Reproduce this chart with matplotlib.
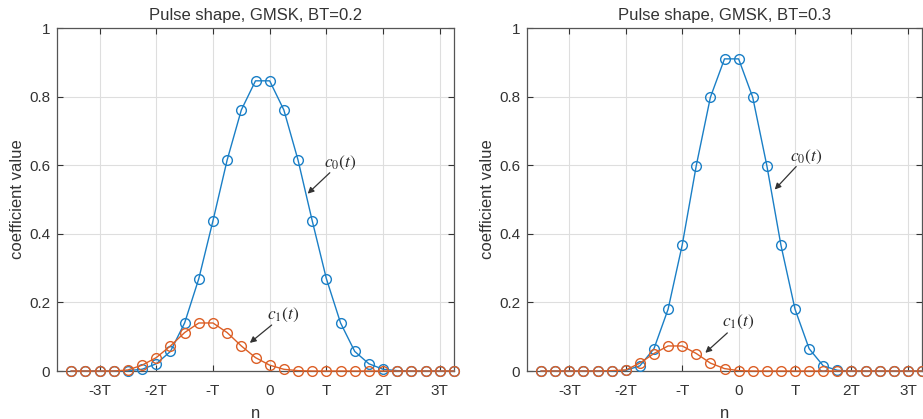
import matplotlib
matplotlib.use("Agg")
import matplotlib.pyplot as plt
import numpy as np

# sample positions in units of T (step T/4)
n_T = [-3.5, -3.25, -3.0, -2.75, -2.5, -2.25, -2.0, -1.75, -1.5, -1.25, -1.0,
       -0.75, -0.5, -0.25, 0.0, 0.25, 0.5, 0.75, 1.0, 1.25, 1.5, 1.75, 2.0,
       2.25, 2.5, 2.75, 3.0, 3.25]

# BT = 0.2
c0_bt02 = [0, 0, 0, 0, 0.001, 0.005, 0.021, 0.057, 0.140, 0.269, 0.438,
           0.615, 0.761, 0.846, 0.846, 0.761, 0.615, 0.438, 0.269, 0.140,
           0.057, 0.021, 0.005, 0.001, 0, 0, 0, 0]
c1_bt02 = [0, 0, 0, 0, 0.003, 0.017, 0.039, 0.073, 0.112, 0.140, 0.140,
           0.112, 0.073, 0.039, 0.017, 0.005, 0.001, 0, 0, 0, 0, 0, 0, 0,
           0, 0, 0, 0]

# BT = 0.3
c0_bt03 = [0, 0, 0, 0, 0, 0, 0.002, 0.015, 0.065, 0.180, 0.367, 0.599,
           0.798, 0.910, 0.910, 0.798, 0.599, 0.367, 0.180, 0.065, 0.015,
           0.002, 0, 0, 0, 0, 0, 0]
c1_bt03 = [0, 0, 0, 0, 0, 0.001, 0.003, 0.023, 0.051, 0.073, 0.073, 0.051,
           0.023, 0.007, 0.001, 0, 0, 0, 0, 0, 0, 0, 0, 0, 0, 0, 0, 0]

xtick_pos = [-3, -2, -1, 0, 1, 2, 3]
xtick_labels = ['-3T', '-2T', '-T', '0', 'T', '2T', '3T']
ytick_pos = [0, 0.2, 0.4, 0.6, 0.8, 1.0]
ytick_labels = ['0', '0.2', '0.4', '0.6', '0.8', '1']

titles = ['Pulse shape, GMSK, BT=0.2', 'Pulse shape, GMSK, BT=0.3']

plt.rcParams['font.family'] = ['Liberation Sans', 'DejaVu Sans']
plt.rcParams['mathtext.fontset'] = 'stix'

BLUE = '#1a7fc6'
ORANGE = '#dc5f26'
AXC = '#333333'

fig = plt.figure(figsize=(9.23, 4.19), dpi=100)
ax1 = fig.add_axes([57/923, 48/419, 397/923, 343/419])
ax2 = fig.add_axes([527/923, 48/419, 395/923, 343/419])

annots = [
    # (text, text_xy, arrow_start, arrow_tip)
    [(r'$c_0(t)$', (1.24, 0.608), (1.06, 0.578), (0.67, 0.517)),
     (r'$c_1(t)$', (0.24, 0.164), (0.035, 0.134), (-0.35, 0.082))],
    [(r'$c_0(t)$', (1.19, 0.625), (1.02, 0.596), (0.64, 0.529)),
     (r'$c_1(t)$', (0.0, 0.143), (-0.20, 0.111), (-0.59, 0.053))],
]

for ax, c0, c1, title, ann in [(ax1, c0_bt02, c1_bt02, titles[0], annots[0]),
                                (ax2, c0_bt03, c1_bt03, titles[1], annots[1])]:
    ax.plot(n_T, c0, '-o', color=BLUE, lw=1.0, ms=7, mfc='none', mew=1.0,
            clip_on=False, zorder=3)
    ax.plot(n_T, c1, '-o', color=ORANGE, lw=1.0, ms=7, mfc='none', mew=1.0,
            clip_on=False, zorder=4)
    ax.set_xlim(-3.75, 3.25)
    ax.set_ylim(0, 1)
    ax.set_xticks(xtick_pos)
    ax.set_xticklabels(xtick_labels)
    ax.set_yticks(ytick_pos)
    ax.set_yticklabels(ytick_labels)
    ax.grid(True, color='#dedede', lw=0.8)
    ax.set_axisbelow(True)
    ax.tick_params(direction='in', top=True, right=True, length=4,
                   color=AXC, labelcolor=AXC, labelsize=11, width=0.8)
    ax.tick_params(axis='x', pad=9)
    ax.tick_params(axis='y', pad=5)
    for s in ax.spines.values():
        s.set_color('#555555')
        s.set_linewidth(0.9)
    ax.set_title(title, fontsize=12, color=AXC, pad=5.5)
    ax.set_xlabel('n', fontsize=12, color=AXC, labelpad=6)
    ax.set_ylabel('coefficient value', fontsize=12, color=AXC, labelpad=3)
    for txt, txy, a0, a1 in ann:
        ax.text(txy[0], txy[1], txt, fontsize=12.5, color='#2a2a2a',
                ha='center', va='center', zorder=6)
        ax.annotate('', xy=a1, xytext=a0,
                    arrowprops=dict(arrowstyle='-|>', color='#333333', lw=0.9,
                                    mutation_scale=9, shrinkA=0, shrinkB=0),
                    zorder=6)

fig.savefig('out.png', dpi=100)
